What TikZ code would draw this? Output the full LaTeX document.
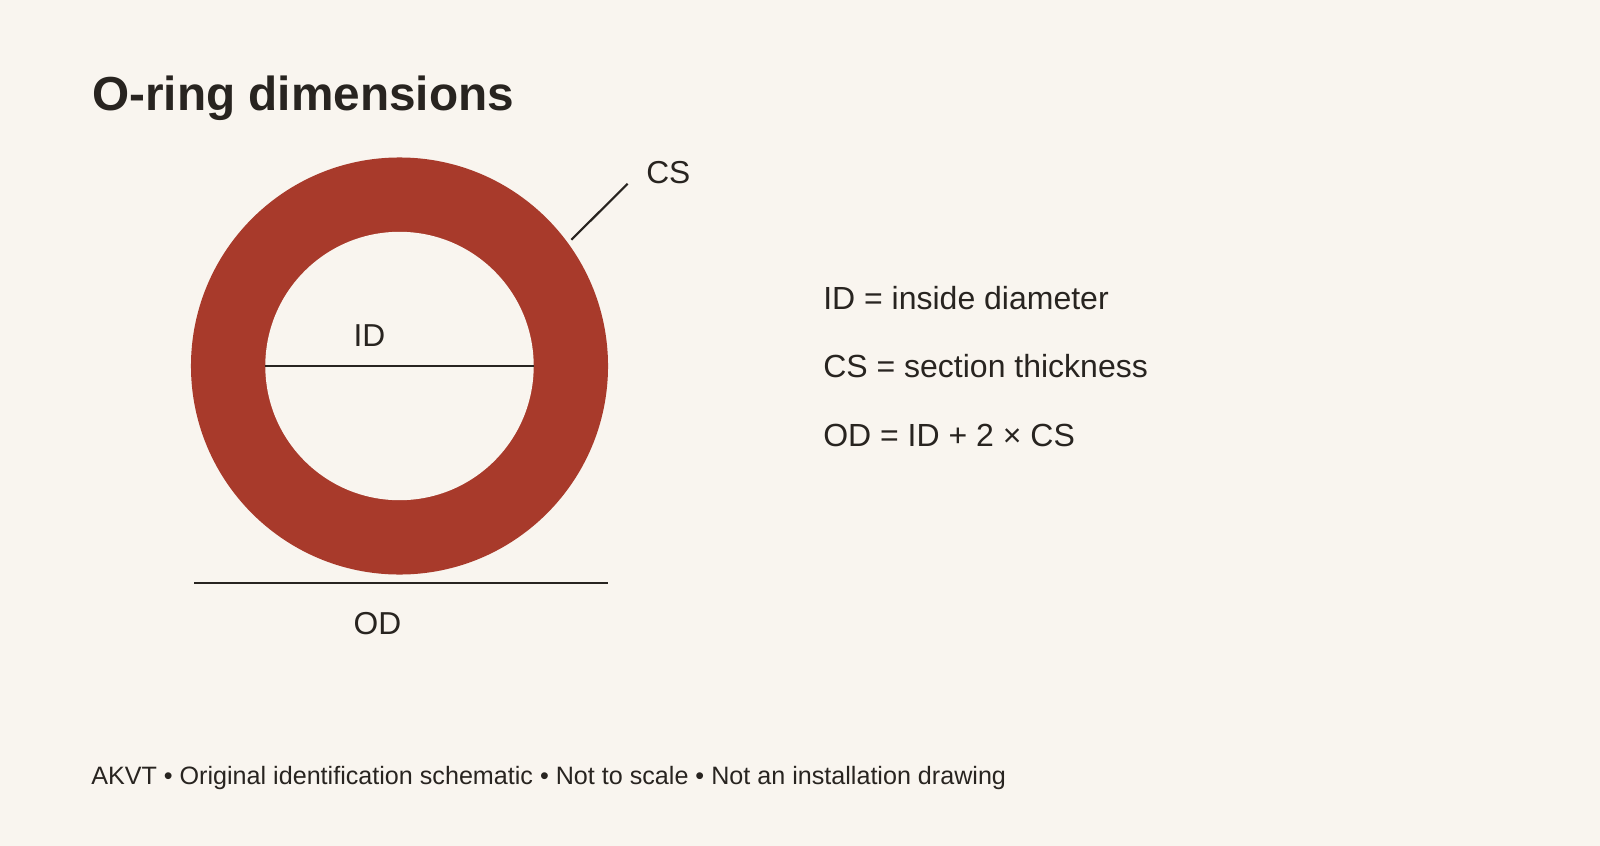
\documentclass[tikz,border=0pt]{standalone}
\usepackage{fontspec}
\setmainfont{Liberation Sans}
\usepackage{tikz}
\usetikzlibrary{positioning}

\definecolor{paper}{RGB}{249,245,239}
\definecolor{ringred}{RGB}{168,58,43}
\definecolor{ink}{RGB}{40,36,32}

\tikzset{
  lbl/.style={text=ink,inner sep=0pt,font=\fontsize{23.8}{28}\selectfont},
  legend/.style={lbl,anchor=base west,font=\fontsize{24}{28}\selectfont},
  dimline/.style={draw=ink,line width=1.6pt}
}

\begin{document}
\begin{tikzpicture}[x=0.75pt,y=-0.75pt]
              \fill[paper] (0,0) rectangle (1600,846);
              \useasboundingbox (0,0) rectangle (1600,846);

              \node[text=ink,anchor=base west,inner sep=0pt,font=\fontsize{35.8}{42}\selectfont\bfseries] (title) at (92,110) {O-ring dimensions};

              % the ring
              \node[circle,fill=ringred,inner sep=0pt,minimum size=312.8pt] (outer) at (399.5,366) {};
              \node[circle,fill=paper,inner sep=0pt,minimum size=201.3pt] (inner) at (399.5,366) {};

              \draw[dimline] (inner.west) -- (inner.east);
              \node[lbl,anchor=base] (idl) at (369.5,346) {ID};

              \coordinate (odL) at (194,583);
              \coordinate (odR) at (608,583);
              \draw[dimline] (odL) -- (odR);
              \node[lbl,anchor=base] (odl) at (377.5,634) {OD};

              \coordinate (csA) at (571.4,239.8);
              \coordinate (csB) at (627.6,183.7);
              \draw[dimline] (csA) -- (csB);
              \node[lbl,anchor=base west] (csl) at (646,183) {CS};

              % legend
              \node[legend] (leg1) at (823,309.5) {ID = inside diameter};
              \node[legend] (leg2) at (823,377.8) {CS = section thickness};
              \node[legend] (leg3) at (823,446.2) {OD = ID + 2 × CS};

              \node[text=ink,anchor=base west,inner sep=0pt,font=\fontsize{18.85}{22}\selectfont] (foot) at (91,784.5) {AKVT • Original identification schematic • Not to scale • Not an installation drawing};
\end{tikzpicture}
\end{document}
